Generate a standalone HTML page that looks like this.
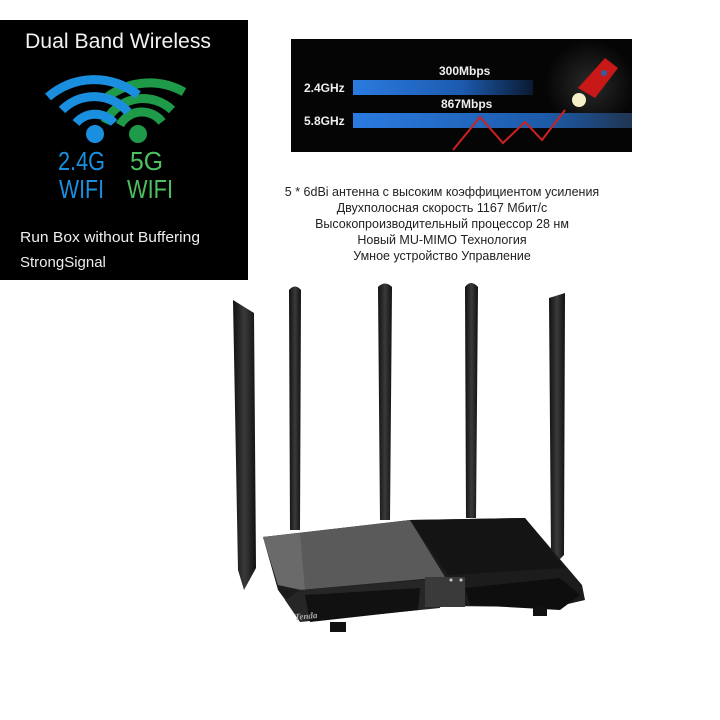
<!DOCTYPE html>
<html><head><meta charset="utf-8"><style>
body{margin:0;width:720px;height:720px;background:#fff;overflow:hidden}
svg{display:block}
</style></head><body>
<svg width="720" height="720" viewBox="0 0 720 720" xmlns="http://www.w3.org/2000/svg">
<defs>
<linearGradient id="b1" x1="0" x2="1"><stop offset="0" stop-color="#2a7be0"/><stop offset="0.6" stop-color="#1d5bb0"/><stop offset="1" stop-color="#0a1a30"/></linearGradient>
<linearGradient id="b2" x1="0" x2="1"><stop offset="0" stop-color="#2a7be0"/><stop offset="0.7" stop-color="#1d5aa8"/><stop offset="1" stop-color="#203550"/></linearGradient>
<linearGradient id="ant" x1="0" x2="1"><stop offset="0" stop-color="#111"/><stop offset="0.5" stop-color="#3a3a3a"/><stop offset="1" stop-color="#111"/></linearGradient>
<radialGradient id="glow" cx="0.5" cy="0.5" r="0.5"><stop offset="0" stop-color="#2a2a2a"/><stop offset="1" stop-color="#050505"/></radialGradient>
<clipPath id="sb"><rect x="291" y="39" width="341" height="113"/></clipPath>
</defs>
<!-- left box -->
<rect x="0" y="20" width="248" height="260" fill="#000"/>
<text x="118" y="48" fill="#f2f2f2" font-family="Liberation Sans,sans-serif" font-size="21" text-anchor="middle" textLength="186" lengthAdjust="spacingAndGlyphs">Dual Band Wireless</text>
<g fill="none" stroke-width="9">
<path d="M106 98 A70 70 0 0 1 184 92" stroke="#1e9a48"/>
<path d="M105 123 A42 42 0 0 1 172 110" stroke="#1e9a48"/>
<path d="M120 125 A25 25 0 0 1 162 122" stroke="#1e9a48"/>
<path d="M48 97 A70 70 0 0 1 138 95" stroke="#1a8fe0"/>
<path d="M62 110 A45 45 0 0 1 128 112" stroke="#1a8fe0"/>
<path d="M76 123 A25 25 0 0 1 114 123" stroke="#1a8fe0"/>
</g>
<circle cx="95" cy="134" r="9" fill="#1a8fe0"/>
<circle cx="138" cy="134" r="9" fill="#1e9a48"/>
<g font-family="Liberation Sans,sans-serif" font-size="26">
<text x="58" y="170" fill="#1a8fe0" textLength="47" lengthAdjust="spacingAndGlyphs">2.4G</text>
<text x="59" y="198" fill="#1a8fe0" textLength="45" lengthAdjust="spacingAndGlyphs">WIFI</text>
<text x="130" y="170" fill="#4cc060" textLength="33" lengthAdjust="spacingAndGlyphs">5G</text>
<text x="127" y="198" fill="#4cc060" textLength="46" lengthAdjust="spacingAndGlyphs">WIFI</text>
</g>
<text x="20" y="242" fill="#eee" font-family="Liberation Sans,sans-serif" font-size="15" textLength="180" lengthAdjust="spacingAndGlyphs">Run Box without Buffering</text>
<text x="20" y="267" fill="#eee" font-family="Liberation Sans,sans-serif" font-size="15">StrongSignal</text>
<!-- speed box -->
<rect x="291" y="39" width="341" height="113" fill="#050505"/>
<g clip-path="url(#sb)">
<circle cx="590" cy="85" r="45" fill="url(#glow)"/>
<rect x="353" y="80" width="180" height="15" fill="url(#b1)"/>
<rect x="353" y="113" width="279" height="15" fill="url(#b2)"/>
<polyline points="453,150 480,117 503,143 525,122 542,140 565,110" fill="none" stroke="#d02020" stroke-width="2"/>
</g>
<g font-family="Liberation Sans,sans-serif" font-size="12" font-weight="bold" fill="#eee">
<text x="304" y="92">2.4GHz</text>
<text x="304" y="125">5.8GHz</text>
<text x="439" y="75">300Mbps</text>
<text x="441" y="108">867Mbps</text>
</g>
<path d="M578 88 L605 58 L618 68 L595 98 Z" fill="#c81818"/>
<circle cx="604" cy="73" r="3" fill="#3060a0"/>
<circle cx="579" cy="100" r="7" fill="#f5f0c8"/>
<!-- russian text -->
<g font-family="Liberation Sans,sans-serif" font-size="12.5" fill="#222" text-anchor="middle">
<text x="442" y="196">5 * 6dBi антенна с высоким коэффициентом усиления</text>
<text x="442" y="212">Двухполосная скорость 1167 Мбит/с</text>
<text x="442" y="228">Высокопроизводительный процессор 28 нм</text>
<text x="442" y="244">Новый MU-MIMO Технология</text>
<text x="442" y="260">Умное устройство Управление</text>
</g>
<!-- antennas -->
<path d="M233 300 L254 313 L256 568 L244 590 L238 570 Z" fill="url(#ant)"/>
<path d="M289 290 Q295 283 301 290 L300 530 L290 530 Z" fill="url(#ant)"/>
<path d="M378 287 Q385 280 392 287 L390 520 L380 520 Z" fill="url(#ant)"/>
<path d="M465 287 Q471 279 478 287 L476 518 L466 518 Z" fill="url(#ant)"/>
<path d="M549 298 L565 293 L564 555 L554 565 L551 555 Z" fill="url(#ant)"/>
<!-- router body -->
<path d="M263 537 L410 520 L525 518 L582 585 L585 600 L555 607 L440 606 L300 620 L278 590 Z" fill="#1c1c1c"/>
<path d="M263 537 L410 520 L445 577 L300 590 L278 585 Z" fill="#5a5a5a"/>
<path d="M263 537 L300 533 L305 590 L278 585 Z" fill="#6a6a6a"/>
<path d="M410 520 L525 518 L565 568 L448 575 Z" fill="#141414"/>
<path d="M300 590 L445 578 L440 608 L300 622 L285 600 Z" fill="#262626"/>
<path d="M305 595 L420 588 L418 610 L310 622 Z" fill="#111"/>
<path d="M465 588 L560 578 L580 595 L560 610 L470 605 Z" fill="#0e0e0e"/>
<rect x="425" y="577" width="40" height="30" fill="#3a3a3a"/>
<circle cx="451" cy="580" r="1.5" fill="#ccc"/><circle cx="461" cy="580" r="1.5" fill="#ccc"/>
<rect x="330" y="622" width="16" height="10" fill="#111"/>
<rect x="533" y="606" width="14" height="10" fill="#111"/>
<text x="295" y="620" fill="#aaa" font-family="Liberation Serif,serif" font-size="9" font-style="italic" font-weight="bold" transform="rotate(-5 295 620)">Tenda</text>
</svg>
</body></html>
